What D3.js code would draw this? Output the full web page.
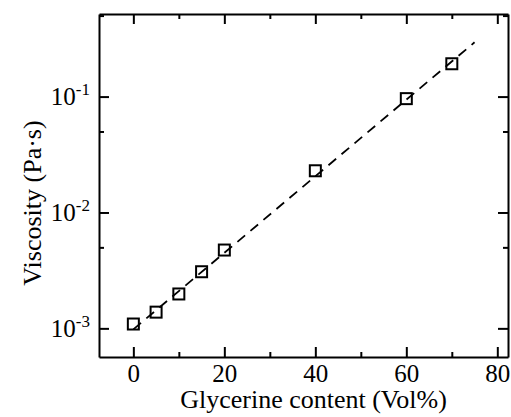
<!DOCTYPE html>
<html>
<head>
<meta charset="utf-8">
<script src="https://cdn.jsdelivr.net/npm/d3@7"></script>
<style>
  html, body { margin: 0; padding: 0; background: #fff; }
  svg { display: block; }
</style>
</head>
<body>
<svg id="chart" width="511" height="417"></svg>
<script>
// Data
const glycerine = [0, 5, 10, 15, 20, 40, 60, 70];
const viscosity = [0.00109, 0.00138, 0.00198, 0.00308, 0.00474, 0.0229, 0.096, 0.192];
const fitX = [0, 75];
const fitY = [0.00098, 0.294];
const xMajorTicks = [0, 20, 40, 60, 80];
const xMinorTicks = [10, 30, 50, 70];
const yMajorTicks = [1e-3, 1e-2, 1e-1];
const yMajorExp = ["-3", "-2", "-1"];
const yMinorTicks = [5e-3, 5e-2, 5e-1];

const svg = d3.select("#chart");
const L = 99, R = 508, T = 14, B = 357;
const x = d3.scaleLinear().domain([-7.55, 82.35]).range([L, R]);
const y = d3.scaleLog().domain([5.66e-4, 0.516]).range([B, T]);

const font = "'Times New Roman', 'Liberation Serif', 'DejaVu Serif', serif";
const black = "#000";
const fs = 25;

function styleAxis(g) {
  g.attr("font-family", font).attr("font-size", fs);
  g.selectAll("path.domain").attr("stroke", black).attr("stroke-width", 2);
  g.selectAll(".tick line").attr("stroke", black).attr("stroke-width", 2);
  g.selectAll("text").attr("font-family", font).attr("font-size", fs).attr("fill", black);
}

// bottom
const gB = svg.append("g").attr("transform", `translate(0,${B})`)
  .call(d3.axisBottom(x).tickValues(xMajorTicks).tickSizeInner(-10).tickSizeOuter(0).tickPadding(25).tickFormat(d3.format("d")));
styleAxis(gB);
gB.selectAll(".tick text").attr("dy", 0);
svg.append("g").attr("transform", `translate(0,${B})`)
  .call(d3.axisBottom(x).tickValues(xMinorTicks).tickSizeInner(-5).tickSizeOuter(0).tickFormat(""))
  .call(styleAxis).select("path.domain").remove();

// top
svg.append("g").attr("transform", `translate(0,${T})`)
  .call(d3.axisTop(x).tickValues(xMajorTicks).tickSizeInner(-10).tickSizeOuter(0).tickFormat(""))
  .call(styleAxis);
svg.append("g").attr("transform", `translate(0,${T})`)
  .call(d3.axisTop(x).tickValues(xMinorTicks).tickSizeInner(-5).tickSizeOuter(0).tickFormat(""))
  .call(styleAxis).select("path.domain").remove();

// left
const gL = svg.append("g").attr("transform", `translate(${L},0)`)
  .call(d3.axisLeft(y).tickValues(yMajorTicks).tickSizeInner(-10).tickSizeOuter(0).tickPadding(9).tickFormat(() => ""));
styleAxis(gL);
gL.selectAll(".tick text").each(function(d, i) {
  const t = d3.select(this);
  t.text(null).attr("dy", 0);
  t.append("tspan").attr("dy", 8).text("10");
  t.append("tspan").attr("font-size", 17).attr("dy", -10).text(yMajorExp[i]);
});
svg.append("g").attr("transform", `translate(${L},0)`)
  .call(d3.axisLeft(y).tickValues(yMinorTicks).tickSizeInner(-5).tickSizeOuter(0).tickFormat(""))
  .call(styleAxis).select("path.domain").remove();

// right
svg.append("g").attr("transform", `translate(${R},0)`)
  .call(d3.axisRight(y).tickValues(yMajorTicks).tickSizeInner(-10).tickSizeOuter(0).tickFormat(""))
  .call(styleAxis);
svg.append("g").attr("transform", `translate(${R},0)`)
  .call(d3.axisRight(y).tickValues(yMinorTicks).tickSizeInner(-5).tickSizeOuter(0).tickFormat(""))
  .call(styleAxis).select("path.domain").remove();

// Fit line
const fit = fitX.map((v, i) => [v, fitY[i]]);
svg.append("path")
  .datum(fit)
  .attr("fill", "none")
  .attr("stroke", black)
  .attr("stroke-width", 1.8)
  .attr("stroke-dasharray", "10,7")
  .attr("d", d3.line().x(d => x(d[0])).y(d => y(d[1])));

// Squares
const s = 11;
svg.append("g").selectAll("rect")
  .data(glycerine.map((v, i) => [v, viscosity[i]]))
  .join("rect")
  .attr("x", d => x(d[0]) - s / 2)
  .attr("y", d => y(d[1]) - s / 2)
  .attr("width", s)
  .attr("height", s)
  .attr("fill", "none")
  .attr("stroke", black)
  .attr("stroke-width", 2);

// Axis titles
svg.append("text")
  .attr("x", (181 + 446) / 2)
  .attr("y", 408)
  .attr("text-anchor", "middle")
  .attr("font-family", font)
  .attr("font-size", 26)
  .attr("fill", black)
  .text("Glycerine content (Vol%)");

svg.append("text")
  .attr("transform", `translate(41,${203}) rotate(-90)`)
  .attr("text-anchor", "middle")
  .attr("font-family", font)
  .attr("font-size", 26)
  .attr("fill", black)
  .text("Viscosity (Pa·s)");
</script>
</body>
</html>
